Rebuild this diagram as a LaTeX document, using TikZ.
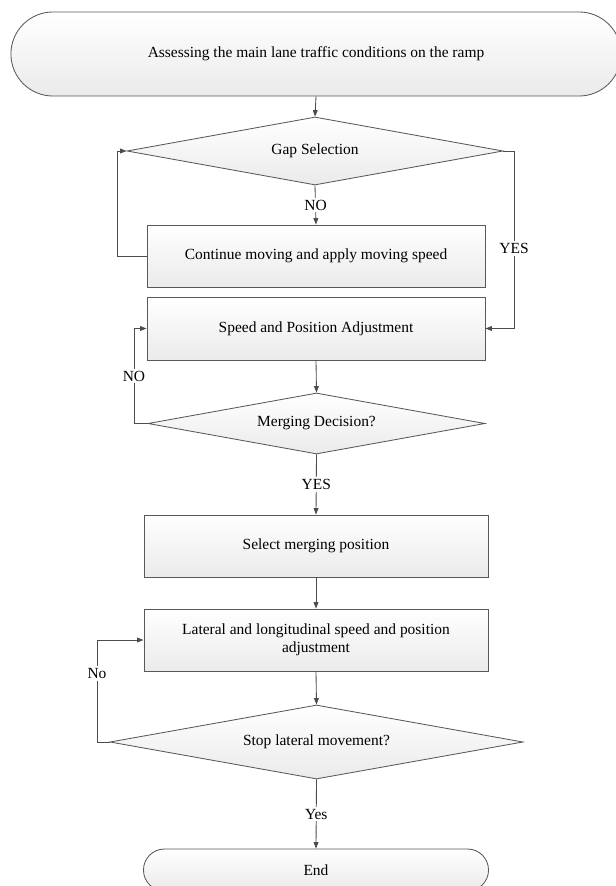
\documentclass[tikz,border=0pt]{standalone}
\usepackage{fontspec}
\setmainfont{Liberation Serif}
\usepackage{tikz}
\usetikzlibrary{arrows.meta,positioning,calc,shapes.geometric,shapes.misc}

\begin{document}
\begin{tikzpicture}[x=0.025cm,y=-0.025cm,
    mgbox/.style={draw=black!65,top color=white,bottom color=black!8,
        line width=0.6pt,align=center,font=\fontsize{11}{13}\selectfont,
        inner sep=0pt,minimum width=8.45cm,minimum height=1.55cm},
    mgdecision/.style={diamond,draw=black!65,top color=white,bottom color=black!8,
        line width=0.6pt,align=center,font=\fontsize{11}{13}\selectfont,inner sep=0pt},
    mgterminal/.style={rounded rectangle,draw=black!65,top color=white,bottom color=black!8,
        line width=0.6pt,align=center,font=\fontsize{11}{13}\selectfont,inner sep=0pt},
    mgarrow/.style={-{Triangle[length=1.6mm,width=1.2mm]},draw=black!70,line width=0.6pt},
    mglabel/.style={font=\fontsize{11}{13}\selectfont,fill=white,inner sep=1.5pt}
]
\useasboundingbox (0,0) rectangle (616,886);
\node[mgterminal,minimum width=15.25cm,minimum height=2.1cm] (assess) at (316,54)
    {Assessing the main lane traffic conditions on the ramp};
\node[mgdecision,aspect=5.5,minimum width=9.4cm,minimum height=1.7cm] (gap) at (315,151)
    {Gap Selection};
\node[mgbox] (moving) at (316,256)
    {Continue moving and apply moving speed};
\node[mgbox,minimum height=1.575cm] (adjust) at (316,328.5)
    {Speed and Position Adjustment};
\node[mgdecision,aspect=5.5,minimum width=8.425cm,minimum height=1.525cm] (merge) at (316.5,423.5)
    {Merging Decision?};
\node[mgbox,minimum width=8.6cm] (select) at (316,546)
    {Select merging position};
\node[mgbox,minimum width=8.6cm] (lateral) at (316,640)
    {Lateral and longitudinal speed and position\\adjustment};
\node[mgdecision,aspect=5.6,minimum width=10.325cm,minimum height=1.85cm] (stop) at (316.5,742)
    {Stop lateral movement?};
\node[mgterminal,minimum width=8.625cm,minimum height=1.05cm] (finish) at (316,870)
    {End};
\coordinate (gaploop) at (117,0);
\coordinate (yesline) at (514,0);
\coordinate (mergeloop) at (134,0);
\coordinate (stoploop) at (97,0);
\draw[mgarrow] (assess.south)--(gap.north);
\draw[mgarrow] (gap.south)--node[mglabel] {NO}(moving.north);
\draw[mgarrow] (moving.west)--(gaploop |- moving.west)--(gaploop |- gap.west)--(gap.west);
\draw[mgarrow] (gap.east)--(yesline |- gap.east)
    --node[mglabel,pos=0.55] {YES}(yesline |- adjust.east)--(adjust.east);
\draw[mgarrow] (adjust.south)--(merge.north);
\draw[mgarrow] (merge.west)--(mergeloop |- merge.west)
    --node[mglabel] {NO}(mergeloop |- adjust.west)--(adjust.west);
\draw[mgarrow] (merge.south)--node[mglabel] {YES}(select.north);
\draw[mgarrow] (select.south)--(lateral.north);
\draw[mgarrow] (lateral.south)--(stop.north);
\draw[mgarrow] (stop.west)--(stoploop |- stop.west)
    --node[mglabel,pos=0.67] {No}(stoploop |- lateral.west)--(lateral.west);
\draw[mgarrow] (stop.south)--node[mglabel] {Yes}(finish.north);
\end{tikzpicture}
\end{document}
